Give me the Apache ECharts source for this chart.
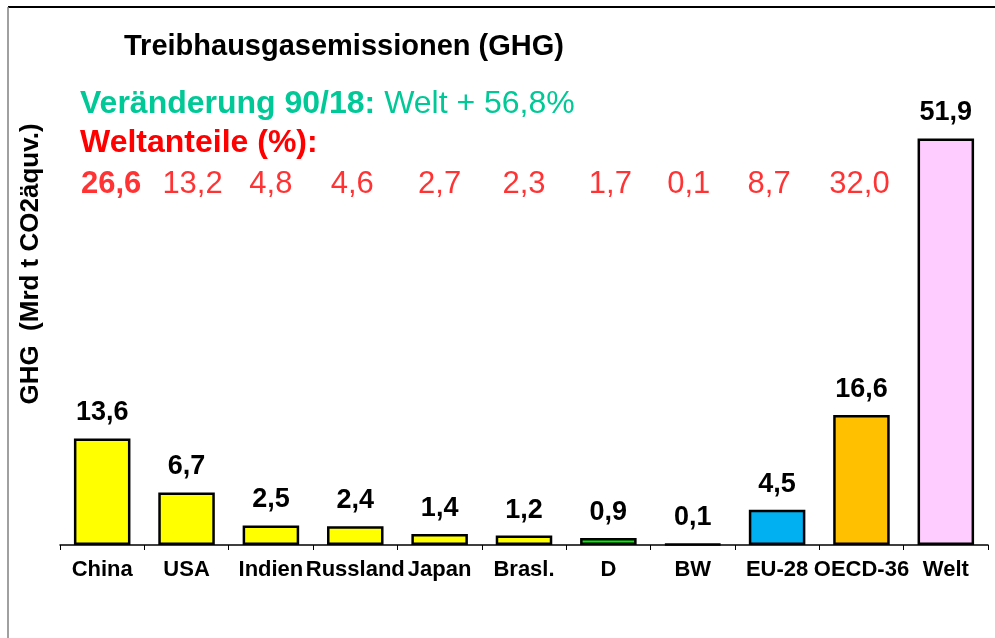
<!DOCTYPE html>
<html>
<head>
<meta charset="utf-8">
<script src="https://cdn.jsdelivr.net/npm/echarts@6/dist/echarts.min.js"></script>
<style>
  html, body { margin: 0; padding: 0; background: #fff; }
  #chart { width: 995px; height: 638px; }
</style>
</head>
<body>
<div id="chart"></div>
<script>
// Daten
var categories = ["China", "USA", "Indien", "Russland", "Japan", "Brasl.", "D", "BW", "EU-28", "OECD-36", "Welt"];
var emissions = [13.6, 6.7, 2.5, 2.4, 1.4, 1.2, 0.9, 0.1, 4.5, 16.6, 51.9];
var worldShares = [26.6, 13.2, 4.8, 4.6, 2.7, 2.3, 1.7, 0.1, 8.7, 32.0];
var barColors = ["#FFFF00", "#FFFF00", "#FFFF00", "#FFFF00", "#FFFF00", "#FFFF00", "#00EE00", "#000000", "#00B0F0", "#FFC000", "#FFCCFF"];

var FONT = "'Liberation Sans', Arial, sans-serif";
var SHARE_ROW = 46.0; // Hoehe der Zeile mit den Weltanteilen (Achseneinheiten)
var shareNudge = [9, 6, 0, -3, 0, 0, 2, -4, -8, -2]; // kleine Verschiebung wie im Textfeld des Originals

function komma(v) {
  return v.toFixed(1).replace(".", ",");
}

var myChart = echarts.init(document.getElementById("chart"));

var option = {
  backgroundColor: "#fff",
  animation: false,
  textStyle: { fontFamily: FONT },
  title: {
    text: "Treibhausgasemissionen (GHG)",
    left: 119,
    top: 27,
    textStyle: { fontFamily: FONT, fontSize: 29, fontWeight: "bold", color: "#000" },
  },
  grid: { left: 60, right: 7, top: 75, bottom: 93 },
  xAxis: {
    type: "category",
    data: categories,
    axisLine: { lineStyle: { color: "#000", width: 1.5 } },
    axisTick: { show: true, interval: 0, length: 5, lineStyle: { color: "#000", width: 1 } },
    axisLabel: {
      interval: 0,
      margin: 14,
      color: "#000",
      fontFamily: FONT,
      fontSize: 22,
      fontWeight: "bold",
    },
  },
  yAxis: {
    type: "value",
    min: 0,
    max: 60,
    show: false,
  },
  graphic: [
    // Rahmen
    { type: "line", shape: { x1: 8, y1: 7, x2: 995, y2: 7 }, style: { stroke: "#000", lineWidth: 2 } },
    { type: "line", shape: { x1: 8, y1: 7, x2: 8, y2: 638 }, style: { stroke: "#808080", lineWidth: 1.5 } },
    {
      type: "text",
      left: 80,
      top: 88,
      style: {
        text: "{b|Veränderung 90/18: }{n|Welt + 56,8%}",
        rich: {
          b: { fontFamily: FONT, fontSize: 32, fontWeight: "bold", fill: "#00C896" },
          n: { fontFamily: FONT, fontSize: 32, fill: "#00C896" },
        },
      },
    },
    {
      type: "text",
      left: 80,
      top: 127,
      style: {
        text: "Weltanteile (%):",
        font: "bold 32px " + FONT,
        fill: "#FF0000",
      },
    },
    {
      type: "text",
      x: 31,
      y: 264,
      rotation: Math.PI / 2,
      style: {
        text: "GHG  (Mrd t CO2äquv.)",
        font: "bold 26px " + FONT,
        fill: "#000",
        align: "center",
        verticalAlign: "middle",
      },
    },
  ],
  series: [
    {
      type: "bar",
      data: emissions.map(function (v, i) {
        return { value: v, itemStyle: { color: barColors[i] } };
      }),
      barWidth: "67%",
      itemStyle: { borderColor: "#000", borderWidth: 2.5 },
      label: {
        show: true,
        position: "top",
        distance: 12,
        color: "#000",
        fontFamily: FONT,
        fontSize: 27,
        fontWeight: "bold",
        formatter: function (p) {
          return komma(p.value);
        },
      },
    },
    {
      // Weltanteile als Textzeile ueber den Kategorien
      type: "scatter",
      symbolSize: 0,
      silent: true,
      data: worldShares.map(function (s, i) {
        return {
          value: [i, SHARE_ROW],
          label: { offset: [shareNudge[i], 0] },
        };
      }),
      label: {
        show: true,
        position: "inside",
        color: "#FF0000",
        fontFamily: FONT,
        fontSize: 31,
        formatter: function (p) {
          var t = komma(worldShares[p.dataIndex]);
          return p.dataIndex === 0 ? "{b|" + t + "}" : t;
        },
        rich: {
          b: { fontFamily: FONT, fontSize: 31, fontWeight: "bold", color: "#FF0000" },
        },
      },
    },
  ],
};

myChart.setOption(option);
window.addEventListener("resize", function () {
  myChart.resize();
});
</script>
</body>
</html>
